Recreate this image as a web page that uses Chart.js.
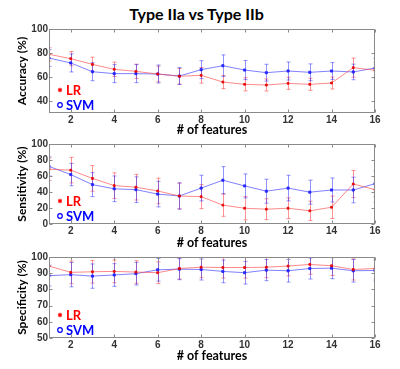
<!DOCTYPE html>
<html>
<head>
<meta charset="utf-8">
<script src="https://cdn.jsdelivr.net/npm/chart.js@4.4.1/dist/chart.umd.min.js"></script>
<style>
body { margin: 0; background: #fff; }
#wrap { position: relative; width: 400px; height: 369px; }
#title { position: absolute; left: 0; top: 4px; width: 393px; text-align: center; font: bold 16px Lato, sans-serif; color: #000; }
.pane { position: absolute; left: 0; width: 400px; }
</style>
</head>
<body>
<div id="wrap">
  <div id="title">Type IIa vs Type IIb</div>
  <div class="pane" style="top:0;height:137px"><canvas id="accChart"></canvas></div>
  <div class="pane" style="top:137px;height:113px"><canvas id="sensChart"></canvas></div>
  <div class="pane" style="top:250px;height:119px"><canvas id="specChart"></canvas></div>
</div>
<script>
const features = [1, 2, 3, 4, 5, 6, 7, 8, 9, 10, 11, 12, 13, 14, 15, 16];
const xTicks = [2, 4, 6, 8, 10, 12, 14, 16];

const accLR = [78.9, 75.3, 70.5, 66.4, 64.7, 62.5, 60.6, 61.4, 55.8, 53.9, 53.3, 54.7, 53.9, 55.0, 67.8, 65.6];
const accLRErr = [5.5, 6, 6, 6, 6, 6.5, 6.5, 6.5, 5.5, 5.5, 5, 5, 5, 5, 8, 6.5];
const accSVM = [75.8, 71.7, 64.4, 62.8, 62.8, 62.5, 60.8, 66.1, 69.4, 65.8, 63.6, 65.0, 63.9, 65.0, 64.2, 67.5];
const accSVMErr = [7, 7.5, 7.5, 7.5, 7.5, 7.5, 7, 7.5, 9, 8, 7, 7.5, 7, 7, 6.5, 8];
const accTicks = [40, 60, 80, 100];

const sensLR = [68.5, 67.3, 57.0, 48.0, 46.0, 41.3, 35.0, 34.2, 23.6, 19.7, 18.5, 19.7, 16.5, 20.9, 50.0, 42.9];
const sensLRErr = [14, 16, 16, 16, 16, 16, 16, 15, 14, 14.5, 13, 13, 12, 14, 17, 16];
const sensSVM = [72.0, 61.8, 49.2, 44.0, 42.9, 37.4, 35.0, 44.9, 54.7, 47.6, 41.0, 44.9, 39.8, 42.5, 42.5, 50.4];
const sensSVMErr = [12, 14, 15, 16, 16, 16, 16.5, 16, 17, 15, 15, 16, 15, 15, 16, 16];
const sensTicks = [0, 20, 40, 60, 80, 100];

const specLR = [94.4, 90.5, 90.9, 91.1, 90.7, 90.3, 92.9, 93.7, 93.5, 93.5, 93.7, 94.4, 95.4, 94.6, 92.3, 92.9];
const specLRErr = [6, 7, 7, 7, 7, 6.7, 6.5, 6.5, 6.5, 6.5, 6.5, 6, 6, 6, 6.5, 6.5];
const specSVM = [88.5, 89.1, 88.2, 88.9, 89.7, 92.1, 92.5, 92.3, 91.1, 90.3, 91.9, 91.5, 92.9, 93.1, 91.5, 91.7];
const specSVMErr = [6.4, 7.5, 7.5, 7, 7, 7, 6.5, 6.5, 7, 7, 6.5, 7, 6.5, 6.5, 7, 6.5];
const specTicks = [50, 60, 70, 80, 90, 100];

const RED = '#ff0000';
const BLUE = '#0000ff';

const framePlugin = {
  id: 'frame',
  beforeDatasetsDraw(chart) {
    const { ctx, chartArea: a, scales: { x, y } } = chart;
    ctx.save();
    ctx.beginPath();
    ctx.rect(a.left, a.top, a.right - a.left, a.bottom - a.top);
    ctx.clip();
    chart.data.datasets.forEach(ds => {
      ctx.strokeStyle = ds.errColor;
      ctx.lineWidth = 1;
      ds.data.forEach((p, i) => {
        const e = ds.errors[i];
        const px = Math.round(x.getPixelForValue(p.x)) + 0.5;
        const top = y.getPixelForValue(p.y + e);
        const bot = y.getPixelForValue(p.y - e);
        ctx.beginPath();
        ctx.moveTo(px, top); ctx.lineTo(px, bot);
        ctx.moveTo(px - 2, top); ctx.lineTo(px + 2, top);
        ctx.moveTo(px - 2, bot); ctx.lineTo(px + 2, bot);
        ctx.stroke();
      });
    });
    ctx.restore();
  },
  afterDraw(chart) {
    const { ctx, chartArea: a, scales: { x, y } } = chart;
    ctx.save();
    ctx.strokeStyle = '#8a8a8a';
    ctx.lineWidth = 1;
    const l = Math.round(a.left) + 0.5, r = Math.round(a.right) - 0.5;
    const t = Math.round(a.top) + 0.5, b = Math.round(a.bottom) - 0.5;
    ctx.strokeRect(l, t, r - l, b - t);
    ctx.beginPath();
    x.ticks.forEach(tk => {
      const px = Math.round(x.getPixelForValue(tk.value)) + 0.5;
      ctx.moveTo(px, b); ctx.lineTo(px, b - 3);
      ctx.moveTo(px, t); ctx.lineTo(px, t + 3);
    });
    y.ticks.forEach(tk => {
      const py = Math.round(y.getPixelForValue(tk.value)) + 0.5;
      ctx.moveTo(l, py); ctx.lineTo(l + 3, py);
      ctx.moveTo(r, py); ctx.lineTo(r - 3, py);
    });
    ctx.stroke();

    // legend inside lower-left corner
    ctx.font = 'bold 13px Lato, sans-serif';
    ctx.textBaseline = 'middle';
    chart.data.datasets.forEach((ds, i) => {
      const ly = a.bottom - 23 + i * 15;
      const mx = a.left + 11;
      ctx.strokeStyle = ds.textColor;
      ctx.fillStyle = ds.textColor;
      ctx.lineWidth = 1.2;
      ctx.beginPath();
      if (i === 0) {
        for (let k = 0; k < 3; k++) {
          const ang = k * Math.PI / 3 + Math.PI / 2;
          ctx.moveTo(mx - 2.3 * Math.cos(ang), ly - 2.3 * Math.sin(ang));
          ctx.lineTo(mx + 2.3 * Math.cos(ang), ly + 2.3 * Math.sin(ang));
        }
      } else {
        ctx.arc(mx, ly, 2.3, 0, Math.PI * 2);
      }
      ctx.stroke();
      ctx.fillText(ds.label, a.left + 17, ly + 1);
    });
    ctx.restore();
  }
};

function makeChart(id, yTitle, yMin, yMax, yTicks, lr, lrErr, svm, svmErr, padTop, padBottom, xHeight) {
  const ctx = document.getElementById(id).getContext('2d');
  return new Chart(ctx, {
    type: 'line',
    data: {
      datasets: [{
        label: 'LR',
        data: features.map((f, i) => ({ x: f, y: lr[i] })),
        errors: lrErr,
        errColor: 'rgba(255, 40, 40, 0.5)',
        textColor: RED,
        borderColor: 'rgba(255, 60, 60, 0.6)',
        borderWidth: 1,
        pointStyle: 'rect',
        pointRadius: 1.3,
        pointBorderWidth: 1,
        pointBorderColor: 'rgba(230, 0, 0, 0.85)',
        pointBackgroundColor: 'rgba(230, 0, 0, 0.85)',
        tension: 0
      }, {
        label: 'SVM',
        data: features.map((f, i) => ({ x: f, y: svm[i] })),
        errors: svmErr,
        errColor: 'rgba(40, 40, 255, 0.5)',
        textColor: BLUE,
        borderColor: 'rgba(60, 60, 255, 0.65)',
        borderWidth: 1,
        pointStyle: 'rect',
        pointRadius: 1.5,
        pointBorderWidth: 1,
        pointBorderColor: 'rgba(30, 30, 255, 0.85)',
        pointBackgroundColor: 'rgba(30, 30, 255, 0.85)',
        tension: 0
      }]
    },
    options: {
      responsive: true,
      maintainAspectRatio: false,
      animation: false,
      layout: { padding: { left: 0, right: 25, top: padTop, bottom: padBottom } },
      plugins: { legend: { display: false }, tooltip: { enabled: false } },
      scales: {
        x: {
          type: 'linear',
          min: 1,
          max: 16,
          afterBuildTicks: scale => { scale.ticks = xTicks.map(v => ({ value: v })); },
          afterFit: scale => { scale.height = xHeight; },
          grid: { display: false, drawTicks: false },
          border: { display: false },
          ticks: { padding: 1, color: '#333', font: { family: 'Liberation Sans', size: 10, weight: 'bold' } },
          title: {
            display: true,
            text: '# of features',
            color: '#000',
            padding: 0,
            font: { family: 'Lato', size: 12.5, weight: 'bold' }
          }
        },
        y: {
          min: yMin,
          max: yMax,
          afterBuildTicks: scale => { scale.ticks = yTicks.map(v => ({ value: v })); },
          afterFit: scale => { scale.width = 49; },
          grid: { display: false, drawTicks: false },
          border: { display: false },
          ticks: { padding: 1, color: '#333', font: { family: 'Liberation Sans', size: 10, weight: 'bold' } },
          title: {
            display: true,
            text: yTitle,
            color: '#000',
            padding: { top: 15, bottom: 0 },
            font: { family: 'Lato', size: 12, weight: 'bold' }
          }
        }
      }
    },
    plugins: [framePlugin]
  });
}

makeChart('accChart', 'Accuracy (%)', 30, 100, accTicks, accLR, accLRErr, accSVM, accSVMErr, 29, 0, 24);
makeChart('sensChart', 'Sensitivity (%)', 0, 100, sensTicks, sensLR, sensLRErr, sensSVM, sensSVMErr, 2, 0, 26);
makeChart('specChart', 'Specificity (%)', 50, 100, specTicks, specLR, specLRErr, specSVM, specSVMErr, 3, 6, 25);
</script>
</body>
</html>
